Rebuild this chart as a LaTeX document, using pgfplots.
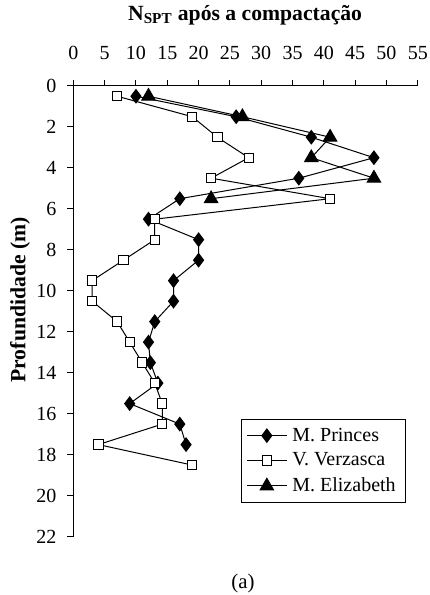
\documentclass[border=0pt]{standalone}
\usepackage{fontspec}
\setmainfont{Liberation Serif}
\usepackage{pgfplots}
\pgfplotsset{compat=1.18}

\begin{document}
\begin{tikzpicture}
\begin{axis}[
    width=206.6pt, height=270.4pt,
    scale only axis,
    xmin=0, xmax=55, ymin=0, ymax=22,
    y dir=reverse,
    axis x line*=top,
    axis y line*=left,
    axis line style={-, line width=0.6pt},
    xtick={0,5,...,55},
    ytick={0,2,...,22},
    tick align=outside,
    major tick length=3.6pt,
    tick style={black, line width=0.6pt},
    /pgf/number format/assume math mode=true,
    tick label style={font=\fontsize{12}{12}\selectfont, inner sep=1pt},
    xticklabel style={yshift=10.7pt},
    yticklabel style={xshift=-5.3pt},
    clip=false,
    legend style={
        at={(axis cs:53.15,20.35)}, anchor=south east,
        font=\fontsize{12}{12}\selectfont,
        draw=black, line width=0.6pt,
        inner xsep=3pt, inner ysep=3.5pt, row sep=2.6pt,
        nodes={inner xsep=3pt, inner ysep=1.5pt},
    },
    legend cell align=left,
    legend image code/.code={
        \draw[mark repeat=2, mark phase=2]
            plot coordinates {(0pt,0pt) (12pt,0pt) (24pt,0pt)};
    },
]

% page frame (429 x 595 px of the reference)
\path (axis cs:-11.71,-4.197) (axis cs:56.82,24.84);

\addplot[black, line width=0.6pt, mark=diamond*, mark size=4pt,
    mark options={fill=black, solid}]
coordinates {
    (10,0.5) (26,1.5) (38,2.5) (48,3.5) (36,4.5) (17,5.5) (12,6.5)
    (20,7.5) (20,8.5) (16,9.5) (16,10.5) (13,11.5) (12,12.5) (12.3,13.5)
    (13.5,14.5) (9,15.5) (17,16.5) (18,17.5)
};
\addlegendentry{M. Princes}

\addplot[black, line width=0.6pt, mark=square*, mark size=2.8pt,
    mark options={fill=white, solid}]
coordinates {
    (7,0.5) (19,1.5) (23,2.5) (28,3.5) (22,4.5) (41,5.5) (13,6.5)
    (13,7.5) (8,8.5) (3,9.5) (3,10.5) (7,11.5) (9,12.5) (11,13.5)
    (13,14.5) (14.2,15.5) (14.2,16.5) (4,17.5) (19,18.5)
};
\addlegendentry{V. Verzasca}

\addplot[black, line width=0.6pt, mark=triangle*, mark size=4.6pt,
    mark options={fill=black, solid}]
coordinates {
    (12,0.5) (27,1.5) (41,2.5) (38,3.5) (48,4.5) (22,5.5)
};
\addlegendentry{M. Elizabeth}

\node[font=\fontsize{13}{13}\selectfont\bfseries, inner sep=0pt] at (axis cs:27.43,-3.47)
    {N\textsubscript{SPT} após a compactação};
\node[font=\fontsize{13}{13}\selectfont\bfseries, rotate=90, inner sep=0pt] at (axis cs:-8.51,10.44)
    {Profundidade (m)};
\node[font=\fontsize{12.5}{12.5}\selectfont, inner sep=0pt] at (axis cs:27.1,24.26) {(a)};
\end{axis}
\end{tikzpicture}
\end{document}
